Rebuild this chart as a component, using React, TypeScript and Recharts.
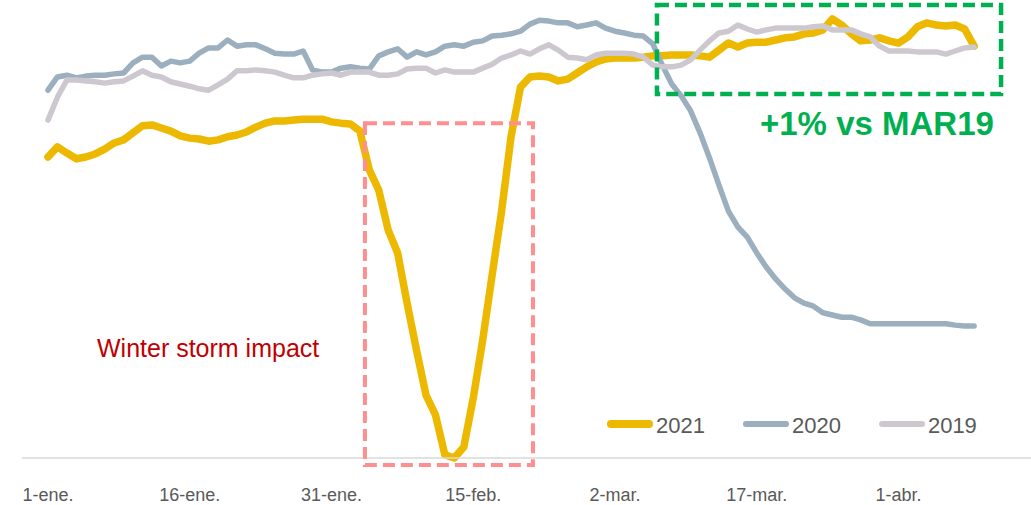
import React from 'react';
import { LineChart, Line, XAxis, YAxis, ReferenceArea, Legend } from 'recharts';

// daily index, 1-ene. .. 9-abr.
const Y2021 = [
  68.4, 70.7, 69.3, 68.0, 68.4, 69.1, 70.2, 71.6, 72.3, 73.9,
  75.5, 75.7, 75.0, 74.3, 73.2, 72.7, 72.5, 72.0, 72.3, 73.0,
  73.4, 74.1, 75.2, 76.1, 76.6, 76.6, 76.8, 77.0, 77.0, 77.0,
  76.4, 76.1, 75.9, 74.3, 65.5, 60.9, 51.8, 46.6, 35.2, 24.5,
  14.3, 9.8, 0.7, 0, 2.5, 13.6, 26.8, 41.6, 56.1, 73.0,
  84.3, 86.6, 86.8, 86.6, 85.7, 86.1, 87.5, 88.9, 90.0, 90.7,
  90.9, 90.9, 90.9, 91.1, 91.4, 91.4, 91.6, 91.6, 91.6, 91.4,
  91.1, 92.7, 94.3, 93.4, 94.3, 94.5, 94.5, 95.0, 95.5, 95.7,
  96.4, 96.6, 97.3, 99.8, 98.4, 96.4, 94.8, 95.0, 95.5, 94.8,
  94.3, 95.7, 98.0, 98.9, 98.4, 98.2, 98.4, 97.5, 93.6,
];

const Y2020 = [
  83.6, 86.6, 87.0, 86.4, 86.8, 87.0, 87.0, 87.3, 87.5, 89.8,
  91.1, 91.1, 89.1, 90.2, 89.8, 90.2, 92.0, 93.2, 93.2, 95.0,
  93.6, 93.9, 93.9, 93.0, 92.0, 91.8, 91.8, 92.5, 88.2, 87.7,
  87.7, 88.6, 88.9, 88.6, 88.4, 91.4, 92.3, 93.0, 91.1, 92.3,
  91.6, 92.3, 93.6, 93.9, 93.6, 94.5, 94.8, 95.9, 96.1, 96.4,
  97.0, 98.6, 99.5, 99.3, 98.9, 98.9, 98.0, 98.4, 98.9, 97.7,
  97.0, 96.6, 96.1, 95.9, 94.1, 89.3, 85.0, 82.3, 78.9, 73.9,
  68.2, 62.0, 56.1, 52.5, 50.2, 46.6, 43.4, 40.7, 38.4, 36.4,
  35.2, 34.5, 33.0, 32.5, 32.0, 32.0, 31.4, 30.5, 30.5, 30.5,
  30.5, 30.5, 30.5, 30.5, 30.5, 30.5, 30.2, 30.0, 30.0,
];

const Y2019 = [
  76.8, 82.0, 85.9, 85.9, 85.7, 85.5, 85.2, 85.5, 85.7, 86.8,
  88.0, 87.0, 86.6, 85.5, 85.0, 84.5, 83.9, 83.6, 84.8, 86.1,
  88.0, 88.0, 88.2, 88.0, 87.7, 87.0, 86.4, 86.4, 87.0, 87.3,
  87.5, 87.0, 87.7, 87.7, 87.7, 87.0, 87.0, 87.3, 88.4, 88.6,
  88.6, 87.5, 88.2, 87.7, 87.7, 87.7, 88.6, 89.5, 90.9, 91.6,
  92.5, 91.8, 93.0, 93.9, 92.7, 91.1, 90.9, 90.5, 91.6, 92.0,
  92.0, 92.0, 91.8, 91.1, 89.3, 88.9, 88.9, 89.3, 90.5, 92.7,
  94.8, 96.6, 97.0, 98.4, 97.5, 96.8, 97.3, 97.7, 97.7, 97.7,
  97.7, 98.0, 98.2, 97.3, 97.3, 97.3, 96.4, 95.7, 93.6, 92.5,
  92.5, 92.5, 92.3, 92.3, 92.3, 91.8, 92.5, 93.2, 93.4,
];

const TICK_DAYS = [0, 15, 30, 45, 60, 75, 90];
const TICK_LABELS = ['1-ene.', '16-ene.', '31-ene.', '15-feb.', '2-mar.', '17-mar.', '1-abr.'];

const SERIES = [
  { key: 'y2021', name: '2021', color: '#EDB800', width: 7.5 },
  { key: 'y2020', name: '2020', color: '#9BAFBF', width: 5.5 },
  { key: 'y2019', name: '2019', color: '#CDC8CF', width: 5.5 },
];

const FONT = "'Liberation Sans', Arial, sans-serif";

const data = Y2021.map((v, i) => ({ day: i, y2021: v, y2020: Y2020[i], y2019: Y2019[i] }));

const DateTick = (props: any) => {
  const { x, y, payload } = props;
  const idx = TICK_DAYS.indexOf(payload.value);
  return (
    <text x={x} y={y + 35} textAnchor="middle" fontSize={18} fill="#595959" fontFamily={FONT}>
      {TICK_LABELS[idx]}
    </text>
  );
};

// legend keeps the series order 2021, 2020, 2019
const LegendContent = () => (
  <div style={{ display: 'flex', alignItems: 'center', height: 28, fontFamily: FONT }}>
    {SERIES.map(s => (
      <div key={s.key} style={{ display: 'flex', alignItems: 'center', marginRight: 38 }}>
        <div style={{ width: 46, height: s.width, borderRadius: 4, background: s.color }} />
        <span style={{ marginLeft: 3, fontSize: 22, color: '#595959', position: 'relative', top: 2 }}>{s.name}</span>
      </div>
    ))}
  </div>
);

export default function App() {
  return (
    <div style={{ position: 'absolute', left: 0, top: 0, width: 1031, height: 505, background: '#fff' }}>
      <LineChart width={1031} height={505} data={data} margin={{ top: 18, right: 0, left: 22, bottom: 0 }}>
        <XAxis
          dataKey="day"
          type="number"
          domain={[-2.75, 104.02]}
          ticks={TICK_DAYS}
          allowDataOverflow
          height={47}
          axisLine={{ stroke: '#D9D9D9', strokeWidth: 1.5 }}
          tickLine={false}
          tick={<DateTick />}
        />
        <YAxis hide domain={[0, 100]} />
        {SERIES.map(s => (
          <Line
            key={s.key}
            dataKey={s.key}
            name={s.name}
            type="linear"
            stroke={s.color}
            strokeWidth={s.width}
            strokeLinejoin="round"
            strokeLinecap="round"
            dot={false}
            activeDot={false}
            isAnimationActive={false}
          />
        ))}
        <ReferenceArea
          x1={33.54}
          x2={51.32}
          y1={-1.6}
          y2={76.1}
          fill="none"
          stroke="#FF8F8F"
          strokeWidth={4}
          strokeDasharray="12 6"
          ifOverflow="visible"
          zIndex={600}
        />
        <ReferenceArea
          x1={64.44}
          x2={100.85}
          y1={82.7}
          y2={102.95}
          fill="none"
          stroke="#00B050"
          strokeWidth={4.5}
          strokeDasharray="12 6"
          ifOverflow="visible"
          zIndex={600}
        />
        <Legend
          layout="horizontal"
          verticalAlign="middle"
          align="center"
          wrapperStyle={{ left: 607, top: 410, width: 424, height: 28 }}
          content={<LegendContent />}
        />
      </LineChart>
      <svg width={1031} height={505} style={{ position: 'absolute', left: 0, top: 0, pointerEvents: 'none' }}>
        <text x={97} y={357} fontSize={25} fill="#C00000" fontFamily={FONT}>Winter storm impact</text>
        <text x={760} y={135} fontSize={33} fontWeight="bold" fill="#00B050" fontFamily={FONT}>+1% vs MAR19</text>
      </svg>
    </div>
  );
}
